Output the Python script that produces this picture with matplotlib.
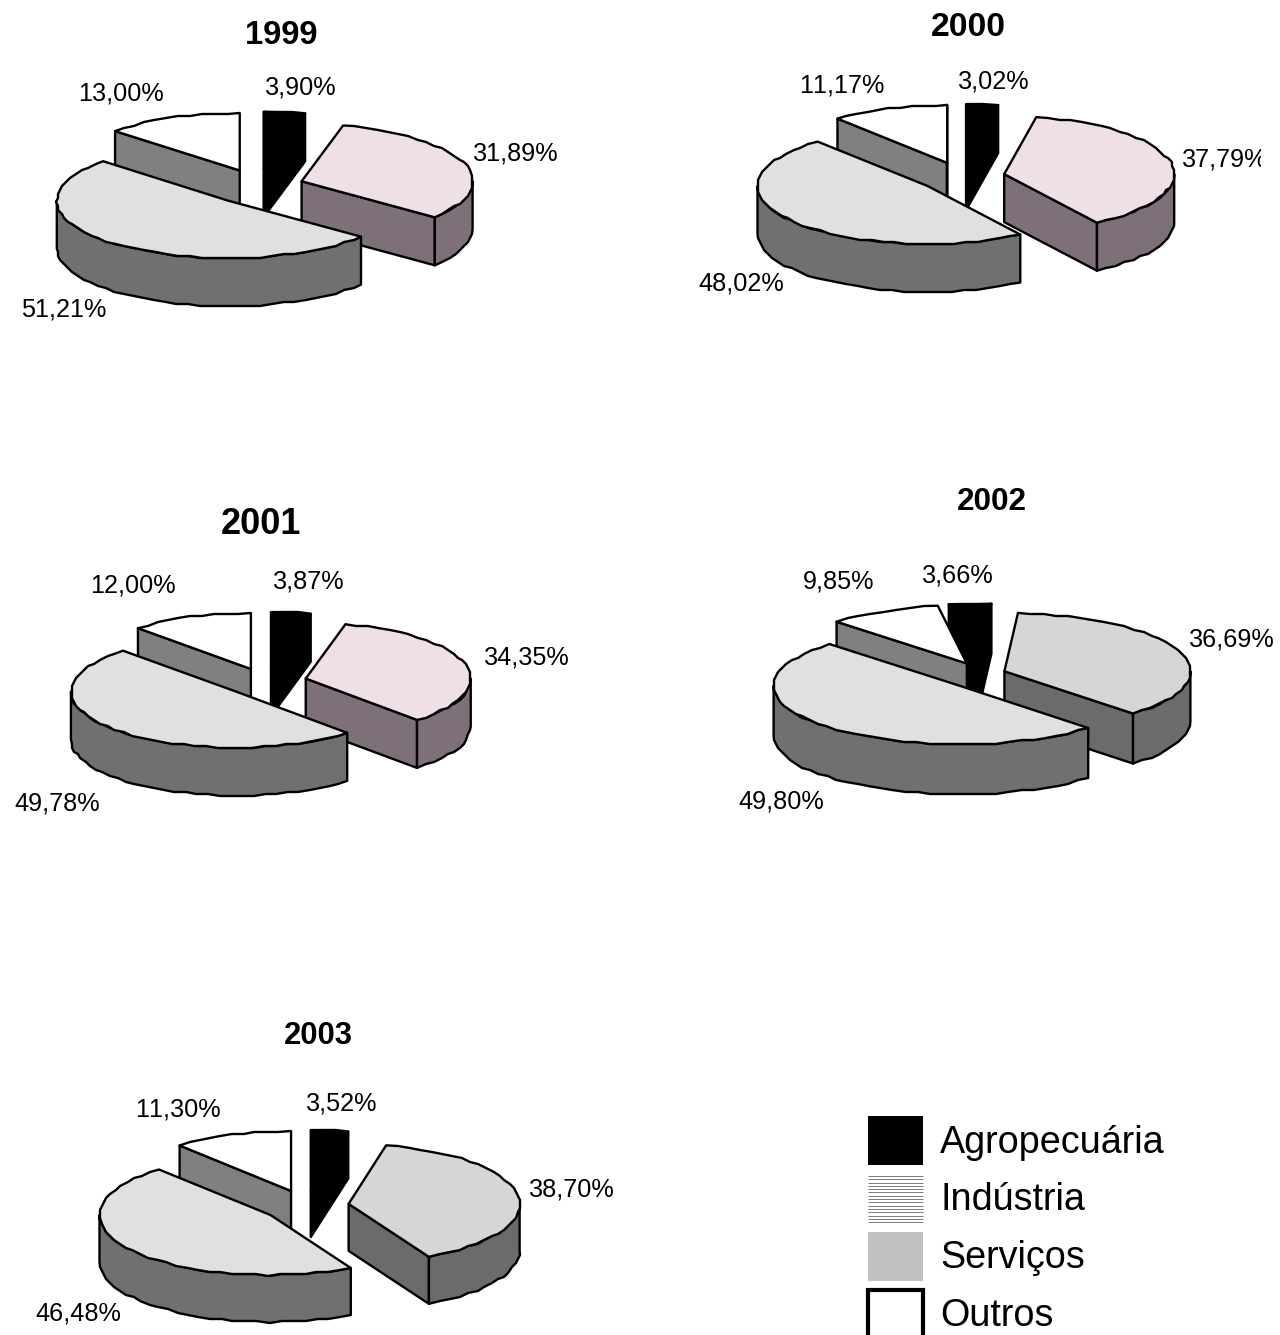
import numpy as np
import matplotlib
matplotlib.use("Agg")
import matplotlib.pyplot as plt
from matplotlib.patches import Polygon, Rectangle

plt.rcParams['font.family'] = ['Liberation Sans', 'DejaVu Sans']
plt.rcParams['text.kerning_factor'] = 10

years = ["1999", "2000", "2001", "2002", "2003"]
agropecuaria = [3.90, 3.02, 3.87, 3.66, 3.52]
industria = [31.89, 37.79, 34.35, 36.69, 38.70]
servicos = [51.21, 48.02, 49.78, 49.80, 46.48]
outros = [13.00, 11.17, 12.00, 9.85, 11.30]
legend_names = ["Agropecuária", "Indústria", "Serviços", "Outros"]

# pie layout in pixels: centre x, y, radii, explode offsets, height, start angle
layout = [
    dict(cx=258, cy=187, rx=171, ry=57.5, ex=46, ey=18, h=48, start=0),
    dict(cx=962, cy=177, rx=170, ry=58, ex=43, ey=15, h=48, start=0),
    dict(cx=266, cy=682, rx=165, ry=56, ex=41, ey=14, h=48, start=0),
    dict(cx=979, cy=676, rx=186, ry=58.5, ex=27, ey=14, h=50, start=-9),
    dict(cx=306, cy=1206, rx=171, ry=60, ex=43, ey=16, h=47, start=0),
]

# title and label centres, in the order agro, industria, servicos, outros
title_pos = [(281, 35), (968, 27), (261, 524), (992, 502), (318, 1036)]
title_size = [23.6, 24.3, 26, 22.7, 22.3]
label_pos = [
    [(301, 88), (516, 153), (64, 309), (121, 94)],
    [(994, 82), (1225, 160), (741, 283), (842, 86)],
    [(309, 582), (527, 658), (57, 804), (133, 585)],
    [(958, 576), (1232, 640), (781, 801), (839, 581)],
    [(342, 1104), (572, 1190), (78, 1313), (178, 1109)],
]
label_clip_x = [1280, 1261, 1280, 1280, 1280]

PINK = ("#eee0e6", "#7d7078")
GREY = ("#d6d6d6", "#6b6b6b")
# (top colour, side colour) per slice, the industria slice changes by year
slice_colors = [
    [("black", "black"), PINK, ("#e0e0e0", "#707070"), ("white", "#808080")],
    [("black", "black"), PINK, ("#e0e0e0", "#707070"), ("white", "#808080")],
    [("black", "black"), PINK, ("#e0e0e0", "#707070"), ("white", "#808080")],
    [("black", "black"), GREY, ("#e0e0e0", "#707070"), ("white", "#808080")],
    [("black", "black"), GREY, ("#e0e0e0", "#707070"), ("white", "#808080")],
]
DRAW_ORDER = [0, 3, 1, 2]
LW = 1.7


def rim(ax0, ay0, g, t):
    return np.column_stack([ax0 + g["rx"] * np.sin(t), ay0 - g["ry"] * np.cos(t)])


def faceted_rim(ax0, ay0, g, a0, a1):
    # rims are stepped polygons, so round the inner points to a coarse pixel grid
    n = max(2, int(np.degrees(a1 - a0) / 4) + 1)
    pts = rim(ax0, ay0, g, np.linspace(a0, a1, n))
    pts[1:-1] = np.round(pts[1:-1] / 2) * 2
    return pts


def draw_slice(ax, g, a0, a1, top, side):
    mid = (a0 + a1) / 2
    ax0 = g["cx"] + g["ex"] * np.sin(mid)
    ay0 = g["cy"] - g["ey"] * np.cos(mid)
    apex = np.array([ax0, ay0])
    down = np.array([0, g["h"]])
    edge = dict(edgecolor="black", linewidth=LW, joinstyle="round")

    # cut faces that look towards the viewer
    if np.sin(a0) < 0:
        p = rim(ax0, ay0, g, np.array([a0]))[0]
        ax.add_patch(Polygon([apex, p, p + down, apex + down], facecolor=side, **edge))
    if np.sin(a1) > 0:
        p = rim(ax0, ay0, g, np.array([a1]))[0]
        ax.add_patch(Polygon([apex, p, p + down, apex + down], facecolor=side, **edge))

    # outer wall, only the front half of the ellipse shows
    lo = max(a0, np.pi / 2)
    hi = min(a1, 3 * np.pi / 2)
    if hi > lo:
        pts = faceted_rim(ax0, ay0, g, lo, hi)
        wall = np.vstack([pts, pts[::-1] + down])
        ax.add_patch(Polygon(wall, facecolor=side, **edge))

    pts = faceted_rim(ax0, ay0, g, a0, a1)
    ax.add_patch(Polygon(np.vstack([apex, pts]), facecolor=top, **edge))


def draw_pie(ax, i):
    g = layout[i]
    vals = [agropecuaria[i], industria[i], servicos[i], outros[i]]
    total = sum(vals)
    edges = np.radians(g["start"] + 360 * np.cumsum([0] + vals) / total)
    for k in DRAW_ORDER:
        top, side = slice_colors[i][k]
        draw_slice(ax, g, edges[k], edges[k + 1], top, side)

    for k, v in enumerate(vals):
        x, y = label_pos[i][k]
        txt = f"{v:.2f}".replace(".", ",") + "%"
        t = ax.text(x, y, txt, fontsize=18.2, ha="center", va="center", color="black")
        t.set_clip_path(Rectangle((0, 0), label_clip_x[i], 1335, transform=ax.transData))
        t.set_clip_on(True)

    x, y = title_pos[i]
    ax.text(x, y, years[i], fontsize=title_size[i], fontweight="bold",
            ha="center", va="center")


def draw_legend(ax):
    ax.add_patch(Rectangle((868, 1116), 55, 49, facecolor="black", edgecolor="none"))
    for y in np.arange(1176, 1223, 3.3):
        ax.plot([868, 923], [y, y], color="#808080", lw=0.72, solid_capstyle="butt", snap=True)
    ax.add_patch(Rectangle((868, 1232), 55, 49, facecolor="#c0c0c0", edgecolor="none"))
    ax.add_patch(Rectangle((868, 1290), 55, 60, facecolor="white", edgecolor="black", linewidth=3))
    for name, y in zip(legend_names, [1143, 1200, 1258, 1316]):
        ax.text(940, y, name, fontsize=27.2, ha="left", va="center")


def main():
    fig = plt.figure(figsize=(12.8, 13.35), dpi=100)
    ax = fig.add_axes([0, 0, 1, 1])
    ax.set_xlim(0, 1280)
    ax.set_ylim(1335, 0)
    ax.axis("off")

    for i in range(len(years)):
        draw_pie(ax, i)
    draw_legend(ax)

    fig.savefig("out.png", dpi=100, facecolor="white")


if __name__ == '__main__':
    main()
